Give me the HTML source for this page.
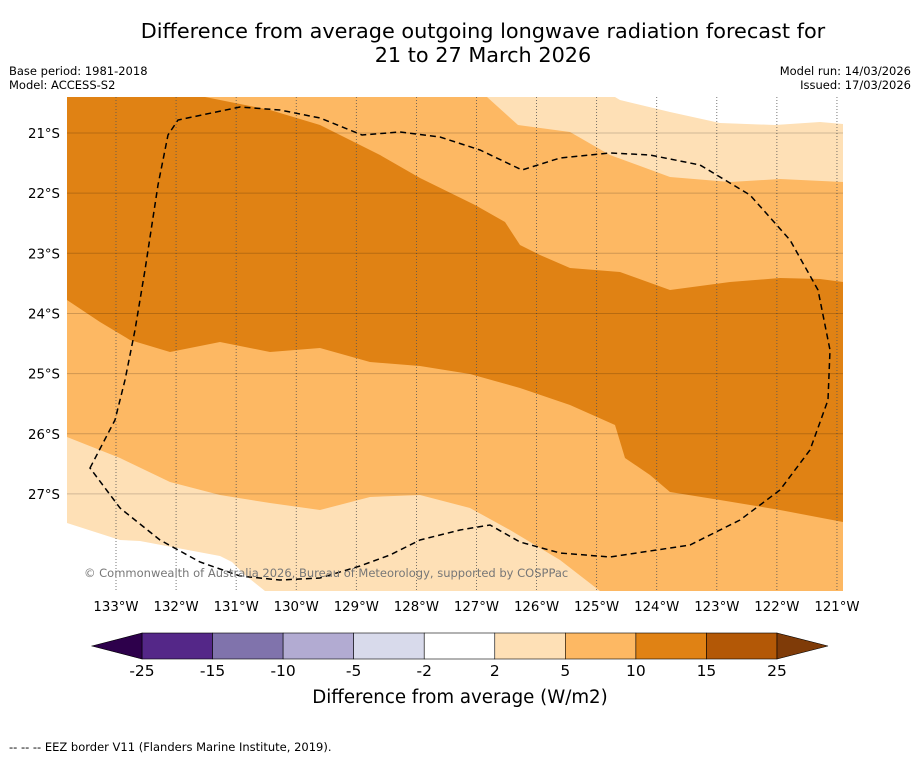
<!DOCTYPE html>
<html><head><meta charset="utf-8">
<style>
body{margin:0;background:#fff;width:919px;height:758px;overflow:hidden;font-family:"Liberation Sans","DejaVu Sans",sans-serif;}
svg text{font-family:"DejaVu Sans","Liberation Sans",sans-serif;}
</style></head>
<body>
<svg id="chart" width="919" height="758" xmlns="http://www.w3.org/2000/svg">
<text x="483" y="38" font-size="20.8" text-anchor="middle">Difference from average outgoing longwave radiation forecast for</text>
<text x="483" y="62" font-size="20.8" text-anchor="middle">21 to 27 March 2026</text>
<text x="9" y="75" font-size="11.5">Base period: 1981-2018</text>
<text x="9" y="89" font-size="11.5">Model: ACCESS-S2</text>
<text x="911" y="75" font-size="11.5" text-anchor="end">Model run: 14/03/2026</text>
<text x="911" y="89" font-size="11.5" text-anchor="end">Issued: 17/03/2026</text>
<g id="map">
<rect x="67" y="97" width="776" height="494" fill="#fdb863"/>
<polygon fill="#e08214" points="67,97 205,97 270,110 320,125 380,155 420,178 475,205 505,222 520,245 540,255 570,268 620,272 670,290 730,282 780,278 820,279 843,282 843,522 780,510 720,500 670,492 650,475 625,458 615,425 570,405 520,388 470,374 420,366 370,362 320,348 270,352 220,342 170,352 130,340 100,322 67,300"/>
<polygon fill="#fee0b6" points="487,97 518,125 570,132 610,155 670,177 730,182 780,179 843,182 843,97"/>
<polygon fill="#fee0b6" points="67,437 120,458 170,482 220,495 270,503 320,510 370,497 420,495 470,508 510,530 560,560 600,591 67,591"/>
<polygon fill="#ffffff" points="615,97 620,100 670,112 720,123 775,125 820,122 843,124 843,97"/>
<polygon fill="#ffffff" points="67,523 120,540 140,541 220,556 232,562 245,575 265,591 67,591"/>
<g id="grid"></g>
<path fill="none" stroke="#000" stroke-width="1.5" stroke-dasharray="6,4" d="M90,468 L115,420 L125,380 L135,330 L145,270 L158,185 L168,135 L178,120 L240,107 L280,110 L320,118 L362,135 L400,132 L440,137 L480,150 L522,170 L560,158 L610,153 L650,155 L700,165 L750,195 L790,240 L818,290 L830,350 L828,400 L810,450 L780,490 L740,520 L690,545 L610,557 L560,553 L520,542 L490,525 L460,530 L420,540 L390,555 L360,566 L320,578 L280,580 L240,576 L200,562 L160,540 L120,508 Z"/>
<text x="84" y="577" font-size="11.5" fill="#777">© Commonwealth of Australia 2026, Bureau of Meteorology, supported by COSPPac</text>
</g>
<g id="axes"></g>
<g id="cbar"></g>
<text x="460" y="703" font-size="18.2" text-anchor="middle">Difference from average (W/m2)</text>
<text x="9" y="751" font-size="11.5">--  --  -- EEZ border V11 (Flanders Marine Institute, 2019).</text>
</svg>
<script>
const lonTicks=[133,132,131,130,129,128,127,126,125,124,123,122,121];
const latTicks=[21,22,23,24,25,26,27];
const cbarLevels=["-25","-15","-10","-5","-2","2","5","10","15","25"];
const cbarColors=["#542788","#8073ac","#b2abd2","#d8daeb","#ffffff","#fee0b6","#fdb863","#e08214","#b35806"];
const ns="http://www.w3.org/2000/svg";
const xLon=l=>116+(133-l)*60.08;
const yLat=l=>133+(l-21)*60.15;
function mk(t,a,p){const e=document.createElementNS(ns,t);for(const k in a)e.setAttribute(k,a[k]);p.appendChild(e);return e;}
const grid=document.getElementById('grid'),axes=document.getElementById('axes'),cb=document.getElementById('cbar');
lonTicks.forEach(l=>{const x=xLon(l);
 const g=mk('line',{x1:x,x2:x,y1:97,y2:591,stroke:'#555','stroke-width':0.8,'stroke-dasharray':'1,2'},grid);
 
 
 const t=mk('text',{x:x,y:611,'font-size':13.3,'text-anchor':'middle'},axes);t.textContent=l+'°W';
 
 
});
latTicks.forEach(l=>{const y=yLat(l);
 const g=mk('line',{x1:67,x2:843,y1:y,y2:y,stroke:'#000','stroke-opacity':0.18,'stroke-width':1},grid);
 
 
 const t=mk('text',{x:60,y:y+5,'font-size':13.3,'text-anchor':'end'},axes);t.textContent=l+'°S';
 
 
});
const cx0=142,cx1=777,cy=633,ch=26,n=cbarColors.length,w=(cx1-cx0)/n;
cbarColors.forEach((c,i)=>{const r=mk('rect',{x:cx0+i*w,y:cy,width:w,height:ch,fill:c,stroke:'#000','stroke-width':0.6},cb);
 
 
});
const lt=mk('polygon',{points:`${cx0},${cy} 92,${cy+ch/2} ${cx0},${cy+ch}`,fill:'#2d004b',stroke:'#000','stroke-width':0.6},cb);


const rt=mk('polygon',{points:`${cx1},${cy} 828,${cy+ch/2} ${cx1},${cy+ch}`,fill:'#7f3b08',stroke:'#000','stroke-width':0.6},cb);


cbarLevels.forEach((v,i)=>{const t=mk('text',{x:cx0+i*w,y:676,'font-size':15.5,'text-anchor':'middle'},cb);t.textContent=v;
 
 
});
</script>
</body></html>
